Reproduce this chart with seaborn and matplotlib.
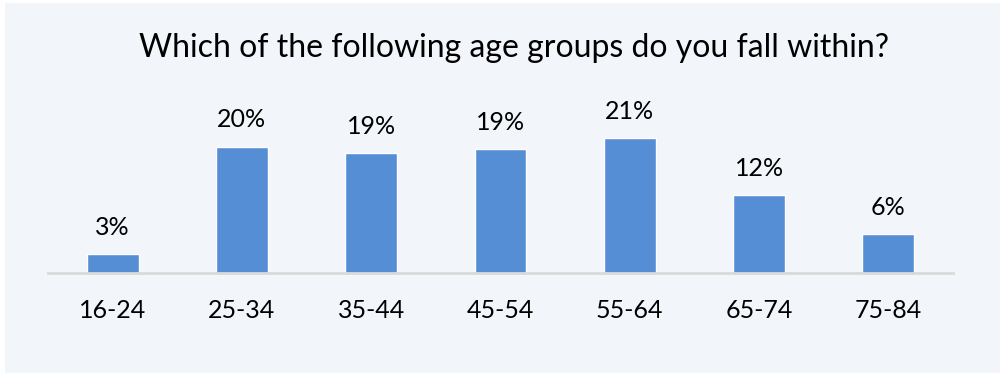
import pandas as pd
import matplotlib.pyplot as plt
import seaborn as sns
from matplotlib.patches import Rectangle

# Дані з графіка
age_groups = ['16-24', '25-34', '35-44', '45-54', '55-64', '65-74', '75-84']
share_pct = [3.0, 20.0, 19.0, 19.6, 21.3, 12.3, 6.2]
value_labels = ['3%', '20%', '19%', '19%', '21%', '12%', '6%']
title_text = 'Which of the following age groups do you fall within?'

BAR_COLOR = '#558ED5'
PANEL_BG = '#F2F5FA'

sns.set_theme(style='white')
plt.rcParams['font.family'] = ['Lato', 'DejaVu Sans']

df = pd.DataFrame({'age': age_groups, 'share': share_pct})

fig = plt.figure(figsize=(10.08, 3.73), dpi=100, facecolor='white')
fig.patches.append(Rectangle((5 / 1008, 0), 995 / 1008, 370 / 373,
                             transform=fig.transFigure, facecolor=PANEL_BG,
                             edgecolor='none', zorder=-5))

ax = fig.add_axes([48 / 1008, 100 / 373, 905 / 1008, 158 / 373])
ax.set_facecolor('none')

sns.barplot(data=df, x='age', y='share', color=BAR_COLOR, width=0.4,
            saturation=1, ax=ax)

ax.set_xlim(-0.5, 6.5)
ax.set_ylim(0, 25)
ax.set_xlabel('')
ax.set_ylabel('')
ax.set_yticks([])
for side in ['top', 'right', 'left']:
    ax.spines[side].set_visible(False)
ax.spines['bottom'].set_color('#D9D9D9')
ax.spines['bottom'].set_linewidth(2)
ax.tick_params(axis='x', length=0, pad=19, labelsize=18, labelcolor='black')

for i, (v, lab) in enumerate(zip(share_pct, value_labels)):
    ax.annotate(lab, (i, v), xytext=(0, 11), textcoords='offset points',
                ha='center', va='bottom', fontsize=18, color='black')

fig.text(0.51, 0.87, title_text, ha='center', va='center',
         fontsize=23, color='black')

fig.savefig('out.png', dpi=100, facecolor=fig.get_facecolor())
